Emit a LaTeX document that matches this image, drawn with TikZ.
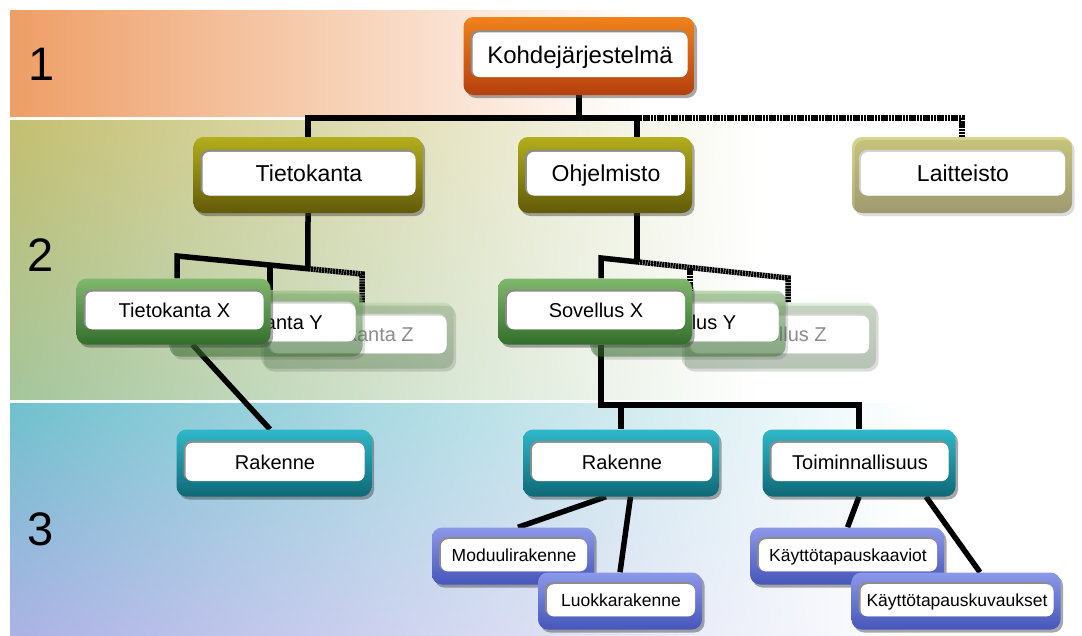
\documentclass[tikz,border=0pt]{standalone}
\usepackage{fontspec}
\setmainfont{Liberation Sans}
\usetikzlibrary{calc,shadows,shadings}

% box colours (top / bottom of each gradient)
\definecolor{orngT}{HTML}{F0821C}\definecolor{orngB}{HTML}{B5400C}
\definecolor{olivT}{HTML}{B2AE1C}\definecolor{olivB}{HTML}{625A08}
\definecolor{grnT}{HTML}{80B86C}\definecolor{grnB}{HTML}{336E2C}
\definecolor{tealT}{HTML}{2EB8C8}\definecolor{tealB}{HTML}{0F6877}
\definecolor{bluT}{HTML}{8C98E8}\definecolor{bluB}{HTML}{4656BA}
% level bands
\definecolor{bandA}{HTML}{EE9E66}
\definecolor{bandBul}{HTML}{C4BF70}\definecolor{bandBll}{HTML}{A4C59C}
\definecolor{bandCul}{HTML}{6FC1CD}\definecolor{bandCll}{HTML}{ABB2E4}

\pgfdeclarelayer{bands}
\pgfdeclarelayer{links}
\pgfsetlayers{bands,links,main}

\tikzset{
  outer/.style={rounded corners=10pt, inner sep=0pt,
    drop shadow={shadow xshift=2.5pt, shadow yshift=-3pt, opacity=0.45, fill=black!75}},
  outerfade/.style={rounded corners=10pt, inner sep=0pt,
    drop shadow={shadow xshift=2.5pt, shadow yshift=-3pt, opacity=0.18, fill=black!75}},
  rimbox/.style={rounded corners=8pt, inner sep=0pt, fill=black!45},
  rimfade/.style={rounded corners=8pt, inner sep=0pt, fill=black!18},
  whitebox/.style={rounded corners=7pt, inner sep=0pt, fill=white, text depth=0pt},
  orangecard/.style={outer, top color=orngT, bottom color=orngB},
  olivecard/.style={outer, top color=olivT, bottom color=olivB},
  olivefade/.style={outerfade, top color=olivT, bottom color=olivB, fill opacity=0.5},
  greencard/.style={outer, top color=grnT, bottom color=grnB},
  greenfade/.style={outerfade, top color=grnT, bottom color=grnB, fill opacity=0.5},
  greenfaint/.style={outerfade, top color=grnT, bottom color=grnB, fill opacity=0.22},
  tealcard/.style={outer, top color=tealT, bottom color=tealB},
  bluecard/.style={outer, top color=bluT, bottom color=bluB},
  link/.style={line width=5.5pt, black},
  fadedlink/.style={line width=5.5pt, black, dash pattern=on 2.2pt off 0.6pt},
  levelnum/.style={font=\fontsize{47}{47}\selectfont, inner sep=0pt}
}

% #1 name, #2 centre, #3 width, #4 height, #5 card style, #6 rim style,
% #7 font size, #8 text style, #9 text
\newcommand\diagcard[9]{%
  \pgfmathsetmacro\cardw{#3}\pgfmathsetmacro\cardh{#4}%
  \pgfmathsetmacro\rimw{#3-14}\pgfmathsetmacro\rimh{0.6*#4}%
  \pgfmathsetmacro\whw{#3-16}\pgfmathsetmacro\whh{0.6*#4-2}%
  \pgfmathsetmacro\lift{-0.03*#4}%
  \pgfmathsetmacro\caph{0.716*#7}%
  \node[#5, minimum width=\cardw pt, minimum height=\cardh pt] (#1) at (#2) {};
  \node[#6, minimum width=\rimw pt, minimum height=\rimh pt] at ($(#1.center)+(0,\lift)$) {};
  \node[whitebox, minimum width=\whw pt, minimum height=\whh pt,
        font=\fontsize{#7}{#7}\selectfont, text height=\caph pt, #8]
        at ($(#1.center)+(1,\lift+1)$) {#9};
}

\begin{document}
\begin{tikzpicture}[x=1pt,y=-1pt]
\useasboundingbox (0,0) rectangle (1082,635);

% cards, back to front
\diagcard{kohde}{579,56}{231}{78}{orangecard}{rimbox}{24}{}{Kohdejärjestelmä}
\diagcard{tk}{308,175}{229}{76}{olivecard}{rimbox}{23}{}{Tietokanta}
\diagcard{ohj}{605,175}{174}{76}{olivecard}{rimbox}{23}{}{Ohjelmisto}
\diagcard{lait}{962,175}{220}{76}{olivefade}{rimfade}{23}{}{Laitteisto}

\diagcard{tkz}{357.5,335.5}{192}{66}{greenfaint}{rimfade}{20}{text=black!45}{Tietokanta Z}
\diagcard{tky}{266,323.5}{193}{66}{greenfade}{rimfade}{20}{}{Tietokanta Y}
\diagcard{tkx}{173.5,311.5}{194}{66}{greencard}{rimbox}{20}{}{Tietokanta X}

\diagcard{sz}{779,335.5}{194}{66}{greenfaint}{rimfade}{20}{text=black!45}{Sovellus Z}
\diagcard{sy}{688,323.5}{195}{66}{greenfade}{rimfade}{20}{}{Sovellus Y}
\diagcard{sx}{595,311.5}{194}{66}{greencard}{rimbox}{20}{}{Sovellus X}

\diagcard{rakA}{274,463}{195}{67}{tealcard}{rimbox}{20}{}{Rakenne}
\diagcard{rakB}{621,463}{196}{67}{tealcard}{rimbox}{20}{}{Rakenne}
\diagcard{toim}{859,463}{193}{67}{tealcard}{rimbox}{20}{}{Toiminnallisuus}

\diagcard{modu}{513,556}{162}{57}{bluecard}{rimbox}{17.5}{}{Moduulirakenne}
\diagcard{luok}{620,601}{164}{57}{bluecard}{rimbox}{17.5}{}{Luokkarakenne}
\diagcard{kkaav}{847,556}{194}{57}{bluecard}{rimbox}{17.5}{}{Käyttötapauskaaviot}
\diagcard{kkuv}{956,601}{209}{57}{bluecard}{rimbox}{17.5}{}{Käyttötapauskuvaukset}

% level bands
\begin{pgfonlayer}{bands}
\fill[white] (0,0) rectangle (1082,635);
\shade[left color=bandA, right color=white] (10,10) rectangle (640,116);
\shade[upper left=bandBul, lower left=bandBll, upper right=white, lower right=white]
  (10,120) rectangle (760,399);
\shade[upper left=bandCul, lower left=bandCll, upper right=white, lower right=white]
  (10,403) rectangle (920,635);
\node[levelnum] (lv1) at (42,64) {1};
\node[levelnum] (lv2) at (41,255) {2};
\node[levelnum] (lv3) at (41,529) {3};
\end{pgfonlayer}

\begin{pgfonlayer}{links}
% level 1 -> level 2
\coordinate (barL) at (308,118);
\coordinate (barM) at (637,118);
\draw[link] (kohde.south) -- (kohde.south |- barL);
\draw[link] (tk.north) |- (barM) -- (barM |- ohj.north);
\draw[fadedlink] (barM) -| (lait.north);

% Tietokanta -> variants
\coordinate (tkL) at (177,256);
\coordinate (tkR) at (362,274);
\path (tkL) -- (tkR) coordinate[pos=0.708] (tkJ) coordinate[pos=0.503] (tkY);
\draw[link] (tk.south) -- (tkJ);
\draw[link] (tkx.north -| tkL) -- (tkL) -- (tkJ);
\draw[link] (tkY) -- (tkY |- tky.north);
\draw[fadedlink] (tkJ) -- (tkR) -- (tkR |- tkz.north);

% Ohjelmisto -> variants
\coordinate (ohL) at (601,258);
\coordinate (ohR) at (788,278);
\path (ohL) -- (ohR) coordinate[pos=0.193] (ohJ) coordinate[pos=0.476] (ohY);
\draw[link] (ohj.south -| ohJ) -- (ohJ);
\draw[link] (sx.north -| ohL) -- (ohL) -- (ohJ);
\draw[fadedlink] (ohJ) -- (ohR) -- (ohR |- sz.north);
\draw[fadedlink] (ohY) -- (ohY |- sy.north);

% Tietokanta X -> Rakenne
\draw[link] ($(tkx.south)+(19,0)$) -- ($(rakA.north)+(-4,0)$);

% Sovellus X -> Rakenne, Toiminnallisuus
\coordinate (sxD) at (601,405);
\draw[link] (sx.south -| sxD) -- (sxD) -| (toim.north);
\draw[link] (sxD -| rakB.north) -- (rakB.north);

% level 3 sub-items
\draw[link] ($(rakB.south)+(-15,0)$) -- ($(modu.north)+(5,0)$);
\draw[link] ($(rakB.south)+(9.5,0)$) -- (luok.north);
\draw[link] (toim.south) -- ($(kkaav.north)+(0.5,0)$);
\draw[link] ($(toim.south)+(67,0)$) -- ($(kkuv.north)+(24,0)$);
\end{pgfonlayer}
\end{tikzpicture}
\end{document}
